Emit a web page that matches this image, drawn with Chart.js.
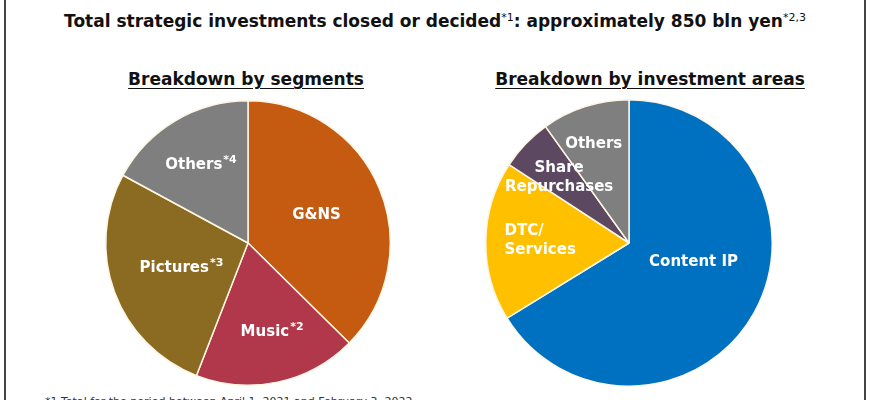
<!DOCTYPE html>
<html>
<head>
<meta charset="utf-8">
<script src="https://cdn.jsdelivr.net/npm/chart.js@4.4.1/dist/chart.umd.min.js"></script>
<style>
  body { margin: 0; background: #fff; }
  #page { position: relative; width: 870px; height: 400px; overflow: hidden; font-family: "DejaVu Sans", Verdana, sans-serif; }
  #frame { position: absolute; left: 4px; top: -2px; width: 858px; height: 410px; border-left: 2px solid #444; border-right: 2px solid #444; }
  .title { position: absolute; left: 0; width: 870px; top: 11px; text-align: center; font-size: 17px; font-weight: bold; line-height: 21px; color: #111; }
  .title sup { font-size: 11px; font-weight: normal; vertical-align: 6px; line-height: 0; }
  .sub { position: absolute; top: 69px; font-size: 17px; font-weight: bold; line-height: 21px; color: #111; text-decoration: underline; text-underline-offset: 3px; white-space: nowrap; transform: translateX(-50%); }
  .note { position: absolute; left: 45px; top: 395px; font-size: 11px; line-height: 14px; color: #333; white-space: nowrap; }
  canvas { position: absolute; }
</style>
</head>
<body>
<div id="page">
  <div id="frame"></div>
  <div class="title">Total strategic investments closed or decided<sup>*1</sup>: approximately 850 bln yen<sup>*2,3</sup></div>
  <div class="sub" style="left:246px">Breakdown by segments</div>
  <div class="sub" style="left:650px">Breakdown by investment areas</div>
  <canvas id="segChart" width="290" height="290" style="left:103px; top:98px; width:290px; height:290px"></canvas>
  <canvas id="areaChart" width="292" height="292" style="left:483px; top:97px; width:292px; height:292px"></canvas>
  <div class="note">*1 Total for the period between April 1, 2021 and February 3, 2022</div>
</div>
<script>
// Breakdown by segments (share of ~850 bln yen, %)
const segLabels = ['G&NS', 'Music', 'Pictures', 'Others'];
const segNotes = ['', '*2', '*3', '*4'];
const segShares = [37.4, 18.5, 27.0, 17.1];
const segColors = ['#c55a11', '#b0384a', '#8b6a22', '#7f7f7f'];

// Breakdown by investment areas (%)
const areaLabels = [['Content IP'], ['DTC/', 'Services'], ['Share', 'Repurchases'], ['Others']];
const areaShares = [66.2, 18.0, 5.9, 9.9];
const areaColors = ['#0070c0', '#ffc000', '#5d4862', '#7f7f7f'];

// label anchors: [angle clockwise from top in degrees, fraction of radius]
const segPlace = [[67.9, 0.52], [164.9, 0.65], [249.3, 0.50], [328.9, 0.64]];
const areaPlace = [[106.5, 0.47], [271.3, 0.62], [313.3, 0.67], [340.3, 0.73]];

const sliceLabels = {
    id: 'sliceLabels',
    afterDatasetsDraw(chart, args, opts) {
        const ctx = chart.ctx;
        const arcs = chart.getDatasetMeta(0).data;
        arcs.forEach((arc, i) => {
            const p = opts.place[i];
            const a = (p[0] - 90) * Math.PI / 180;
            const r = arc.outerRadius * p[1];
            const cx = arc.x + Math.cos(a) * r;
            const cy = arc.y + Math.sin(a) * r;
            const lines = opts.lines[i];
            const note = opts.notes ? opts.notes[i] : '';
            const align = opts.align ? opts.align[i] : 'center';
            ctx.save();
            ctx.fillStyle = '#ffffff';
            ctx.textBaseline = 'middle';
            ctx.textAlign = 'left';
            ctx.font = 'bold 15px "DejaVu Sans"';
            const widths = lines.map(t => ctx.measureText(t).width);
            ctx.font = 'bold 11px "DejaVu Sans"';
            const nw = note ? ctx.measureText(note).width + 1 : 0;
            const blockW = Math.max(...widths) + nw;
            const lh = 19;
            lines.forEach((t, j) => {
                const y = cy + (j - (lines.length - 1) / 2) * lh;
                const x = align === 'left' ? cx - blockW / 2 : cx - (widths[j] + nw) / 2;
                ctx.font = 'bold 15px "DejaVu Sans"';
                ctx.fillText(t, x, y);
                if (note && j === lines.length - 1) {
                    ctx.font = 'bold 11px "DejaVu Sans"';
                    ctx.fillText(note, x + widths[j] + 1, y - 5);
                }
            });
            ctx.restore();
        });
    }
};

function pieConfig(labels, values, colors, labelOpts) {
    return {
        type: 'pie',
        data: {
            labels: labels,
            datasets: [{
                data: values,
                backgroundColor: colors,
                borderColor: '#fdf6e3',
                borderWidth: 1.5
            }]
        },
        options: {
            responsive: false,
            animation: false,
            layout: { padding: 2 },
            plugins: {
                legend: { display: false },
                tooltip: { enabled: false },
                sliceLabels: labelOpts
            }
        },
        plugins: [sliceLabels]
    };
}

const ctx1 = document.getElementById('segChart').getContext('2d');
const ctx2 = document.getElementById('areaChart').getContext('2d');

var segChart = new Chart(ctx1, pieConfig(segLabels, segShares, segColors, {
    place: segPlace,
    lines: segLabels.map(l => [l]),
    notes: segNotes
}));

var areaChart = new Chart(ctx2, pieConfig(areaLabels.map(l => l.join(' ')), areaShares, areaColors, {
    place: areaPlace,
    lines: areaLabels,
    align: ['center', 'left', 'center', 'center']
}));
</script>
</body>
</html>
